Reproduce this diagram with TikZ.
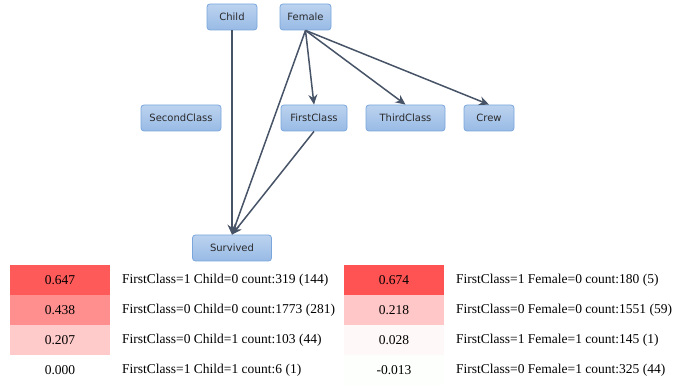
\documentclass[tikz,border=0pt]{standalone}
\usepackage{fontspec}
\setmainfont{Liberation Serif}
\newfontfamily\nodefont{DejaVu Sans}
\usetikzlibrary{arrows.meta}
\definecolor{nodeborder}{HTML}{7AA6DC}
\definecolor{nodetop}{HTML}{BCD3EF}
\definecolor{nodebot}{HTML}{98BAE5}
\definecolor{edgecol}{HTML}{475366}
\definecolor{nodetext}{HTML}{2A2A2A}
\tikzset{
  varnode/.style={draw=nodeborder, line width=0.8pt, rounded corners=3pt,
    top color=nodetop, bottom color=nodebot, minimum height=26pt,
    inner sep=0pt, font=\nodefont\fontsize{10}{11}\selectfont, text=nodetext},
  link/.style={draw=edgecol, line width=1.5pt, -{Stealth[length=10pt,width=9pt]}},
  cell/.style={minimum width=100pt, minimum height=30pt, inner sep=0pt,
    font=\fontsize{13.5}{15}\selectfont},
  rowtext/.style={anchor=west, inner sep=0pt, font=\fontsize{13.5}{15}\selectfont}
}
\begin{document}
\begin{tikzpicture}[x=1pt,y=-1pt]
\useasboundingbox (0,0) rectangle (678,387);
\node[varnode, minimum width=50pt] (child) at (232,17) {Child};
\node[varnode, minimum width=51pt] (female) at (305.5,17) {Female};
\node[varnode, minimum width=80pt] (second) at (181,118) {SecondClass};
\node[varnode, minimum width=66pt] (first) at (314,118) {FirstClass};
\node[varnode, minimum width=79pt] (third) at (405.5,118) {ThirdClass};
\node[varnode, minimum width=50pt] (crew) at (489,118) {Crew};
\node[varnode, minimum width=79pt] (survived) at (232,248) {Survived};

\draw[link] (child.south) -- (survived.north);
\draw[link] (female.south) -- (survived.north);
\draw[link] (first.south) -- (survived.north);
\draw[link] (female.south) -- (first.north);
\draw[link] (female.south) -- (third.north);
\draw[link] (female.south) -- (crew.north);

% left table
\node[cell, fill=red!64.7!white] (l1) at (60,280) {0.647};
\node[cell, fill=red!43.8!white] (l2) at (60,310) {0.438};
\node[cell, fill=red!20.7!white] (l3) at (60,340) {0.207};
\node[cell] (l4) at (60,370) {0.000};
\node[rowtext] (lt1) at (122,280) {FirstClass=1 Child=0 count:319 (144)};
\node[rowtext] (lt2) at (122,310) {FirstClass=0 Child=0 count:1773 (281)};
\node[rowtext] (lt3) at (122,340) {FirstClass=0 Child=1 count:103 (44)};
\node[rowtext] (lt4) at (122,370) {FirstClass=1 Child=1 count:6 (1)};

% right table
\node[cell, fill=red!67.4!white] (r1) at (394,280) {0.674};
\node[cell, fill=red!21.8!white] (r2) at (394,310) {0.218};
\node[cell, fill=red!2.8!white] (r3) at (394,340) {0.028};
\node[cell, fill=green!1.3!white] (r4) at (394,370) {-0.013};
\node[rowtext] (rt1) at (456,280) {FirstClass=1 Female=0 count:180 (5)};
\node[rowtext] (rt2) at (456,310) {FirstClass=0 Female=0 count:1551 (59)};
\node[rowtext] (rt3) at (456,340) {FirstClass=1 Female=1 count:145 (1)};
\node[rowtext] (rt4) at (456,370) {FirstClass=0 Female=1 count:325 (44)};
\end{tikzpicture}
\end{document}
